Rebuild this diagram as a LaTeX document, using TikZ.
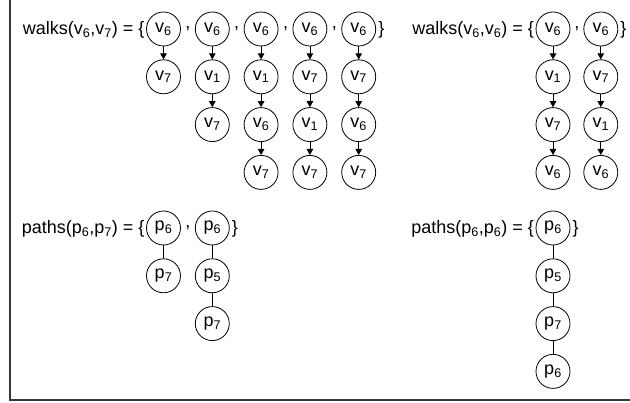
\documentclass[tikz,border=0pt]{standalone}
\usepackage{fontspec}
\setmainfont{Liberation Sans}
\usetikzlibrary{positioning,arrows.meta,calc}
\definecolor{framegray}{HTML}{383838}
\newcommand{\vx}[1]{v\textsubscript{#1}}
\newcommand{\px}[1]{p\textsubscript{#1}}

\begin{document}
\begin{tikzpicture}[
  x=1pt, y=1pt,
  font=\fontsize{18}{22}\selectfont,
  vtx/.style={draw, circle, line width=0.8pt, minimum size=34pt, inner sep=0pt},
  lbl/.style={inner sep=0pt, anchor=base east},
  sep/.style={inner sep=0pt, anchor=base},
  arr/.style={-{Triangle[length=6pt, width=6.5pt]}, line width=0.8pt},
  link/.style={line width=0.8pt},
  node distance=13pt,
  ]
  \useasboundingbox (0,0) rectangle (630,-403);
  \draw[framegray, line width=1.4pt] (10,5) -- (10,-400) -- (640,-400);

  % walks from v6 to v7
  \node[vtx] (a1) at (163.5,-29) {\vx{6}};
  \node[vtx, below=of a1] (a2) {\vx{7}};
  \node[vtx, right=14pt of a1] (b1) {\vx{6}};
  \node[vtx, below=of b1] (b2) {\vx{1}};
  \node[vtx, below=of b2] (b3) {\vx{7}};
  \node[vtx, right=14pt of b1] (c1) {\vx{6}};
  \node[vtx, below=of c1] (c2) {\vx{1}};
  \node[vtx, below=of c2] (c3) {\vx{6}};
  \node[vtx, below=of c3] (c4) {\vx{7}};
  \node[vtx, right=14pt of c1] (d1) {\vx{6}};
  \node[vtx, below=of d1] (d2) {\vx{7}};
  \node[vtx, below=of d2] (d3) {\vx{1}};
  \node[vtx, below=of d3] (d4) {\vx{7}};
  \node[vtx, right=14pt of d1] (e1) {\vx{6}};
  \node[vtx, below=of e1] (e2) {\vx{7}};
  \node[vtx, below=of e2] (e3) {\vx{6}};
  \node[vtx, below=of e3] (e4) {\vx{7}};

  \node[lbl] (wl) at ([xshift=-1.5pt, yshift=-6pt]a1.west) {walks(\vx{6},\vx{7}) = \{};
  \node[sep] at ($(a1.east)!0.5!(b1.west)$ |- wl.base) {,};
  \node[sep] at ($(b1.east)!0.5!(c1.west)$ |- wl.base) {,};
  \node[sep] at ($(c1.east)!0.5!(d1.west)$ |- wl.base) {,};
  \node[sep] at ($(d1.east)!0.5!(e1.west)$ |- wl.base) {,};
  \node[sep, anchor=base west] at ([xshift=2pt]e1.east |- wl.base) {\}};

  \draw[arr] (a1) -- (a2);
  \draw[arr] (b1) -- (b2);
  \draw[arr] (b2) -- (b3);
  \draw[arr] (c1) -- (c2);
  \draw[arr] (c2) -- (c3);
  \draw[arr] (c3) -- (c4);
  \draw[arr] (d1) -- (d2);
  \draw[arr] (d2) -- (d3);
  \draw[arr] (d3) -- (d4);
  \draw[arr] (e1) -- (e2);
  \draw[arr] (e2) -- (e3);
  \draw[arr] (e3) -- (e4);

  % walks from v6 back to v6
  \node[vtx] (f1) at (553,-29) {\vx{6}};
  \node[vtx, below=of f1] (f2) {\vx{1}};
  \node[vtx, below=of f2] (f3) {\vx{7}};
  \node[vtx, below=of f3] (f4) {\vx{6}};
  \node[vtx, right=13pt of f1] (g1) {\vx{6}};
  \node[vtx, below=of g1] (g2) {\vx{7}};
  \node[vtx, below=of g2] (g3) {\vx{1}};
  \node[vtx, below=of g3] (g4) {\vx{6}};

  \node[lbl] (wr) at ([xshift=-1.5pt, yshift=-6pt]f1.west) {walks(\vx{6},\vx{6}) = \{};
  \node[sep] at ($(f1.east)!0.5!(g1.west)$ |- wr.base) {,};
  \node[sep, anchor=base west] at ([xshift=2pt]g1.east |- wr.base) {\}};

  \draw[arr] (f1) -- (f2);
  \draw[arr] (f2) -- (f3);
  \draw[arr] (f3) -- (f4);
  \draw[arr] (g1) -- (g2);
  \draw[arr] (g2) -- (g3);
  \draw[arr] (g3) -- (g4);

  % paths from p6 to p7
  \node[vtx] (h1) at (163.5,-228) {\px{6}};
  \node[vtx, below=of h1] (h2) {\px{7}};
  \node[vtx, right=14pt of h1] (i1) {\px{6}};
  \node[vtx, below=of i1] (i2) {\px{5}};
  \node[vtx, below=of i2] (i3) {\px{7}};

  \node[lbl] (pl) at ([xshift=-1.5pt, yshift=-6pt]h1.west) {paths(\px{6},\px{7}) = \{};
  \node[sep] at ($(h1.east)!0.5!(i1.west)$ |- pl.base) {,};
  \node[sep, anchor=base west] at ([xshift=2pt]i1.east |- pl.base) {\}};

  \draw[link] (h1) -- (h2);
  \draw[link] (i1) -- (i2);
  \draw[link] (i2) -- (i3);

  % paths from p6 back to p6
  \node[vtx] (j1) at (553,-228) {\px{6}};
  \node[vtx, below=of j1] (j2) {\px{5}};
  \node[vtx, below=of j2] (j3) {\px{7}};
  \node[vtx, below=of j3] (j4) {\px{6}};

  \node[lbl] (pr) at ([xshift=-1.5pt, yshift=-6pt]j1.west) {paths(\px{6},\px{6}) = \{};
  \node[sep, anchor=base west] at ([xshift=2pt]j1.east |- pr.base) {\}};

  \draw[link] (j1) -- (j2);
  \draw[link] (j2) -- (j3);
  \draw[link] (j3) -- (j4);
\end{tikzpicture}
\end{document}
